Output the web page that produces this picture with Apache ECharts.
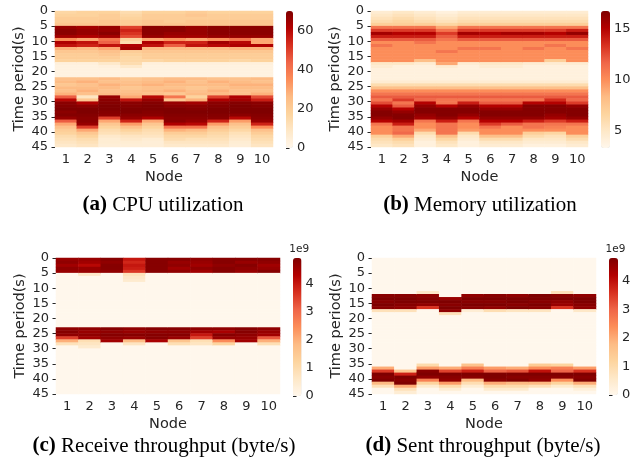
<!DOCTYPE html>
<html>
<head>
<meta charset="utf-8">
<script src="https://cdn.jsdelivr.net/npm/echarts@6/dist/echarts.min.js"></script>
<style>
  html, body { margin: 0; padding: 0; background: #fff; }
  #chart { width: 644px; height: 465px; }
</style>
</head>
<body>
<div id="chart"></div>
<script>
// nodes on x, one row per second (0..44) on y
var nodes = ['1', '2', '3', '4', '5', '6', '7', '8', '9', '10'];
var rows = [];
for (var r = 0; r < 45; r++) rows.push(String(r));

// (a) CPU utilization, one array per node, t = 0..44
var cpu = [
  [16,18,20,20,22, 66,68,68,64, 35, 62,58, 28, 22,20,20,18, 4,3,3,3,3, 24,26,22,26,24,28, 45,60, 68,69,70,68,69,66, 45,30,24,20,18,14,12,10,8],
  [18,18,20,20,22, 64,66,66,62, 30, 58,55, 26, 22,20,20,18, 4,3,3,3,3, 24,28,24,26,28,24, 10,22, 62,68,70,70,69,68,68,66, 50,30,22,18,14,12,10],
  [18,20,20,22,22, 66,66,68,64, 40, 44,58, 30, 24,22,20,18, 8,4,3,3,3, 26,24,28,26,24,26, 66,68, 69,70,70,69,68,50, 30,22,18,14,12,8,6,6,5],
  [14,16,18,20,20, 50,55,52,48, 18, 14,62, 64, 20,18,16,16, 14,8,3,3,3, 22,24,26,22,24,26, 30,58, 68,69,70,70,68,66, 55,32,24,18,14,10,8,6,5],
  [18,20,20,22,22, 68,68,68,66, 30, 62,58, 26, 22,20,20,16, 4,3,3,3,3, 24,26,28,24,26,24, 60,66, 69,70,70,69,68,62, 30,22,18,14,12,10,6,5,5],
  [18,20,20,20,22, 68,68,66,64, 34, 55,45, 26, 22,20,20,18, 4,3,3,3,3, 26,28,26,24,28,22, 40,22, 66,68,70,70,69,68,68,62, 40,28,20,16,14,10,8],
  [20,22,20,22,22, 66,66,66,64, 30, 55,58, 26, 22,20,20,18, 4,3,3,3,3, 26,24,26,22,24,26, 18,28, 64,68,69,70,69,68,66,60, 40,26,20,16,12,10,8],
  [18,20,20,22,22, 68,68,68,66, 34, 64,60, 26, 22,20,20,18, 4,3,3,3,3, 24,28,26,24,28,26, 50,62, 68,69,70,70,69,68,55, 32,24,20,16,14,12,10,8],
  [18,20,20,22,22, 68,68,68,66, 40, 60,62, 28, 22,20,20,16, 4,3,3,3,3, 24,26,28,26,24,24, 62,64, 69,70,70,70,68,60, 32,24,20,16,12,10,8,6,5],
  [18,20,20,22,22, 68,68,68,66, 30, 30,62, 28, 22,20,20,18, 4,3,3,3,3, 26,24,28,26,24,28, 48,56, 68,69,70,70,69,68,66,55, 35,24,20,16,14,12,10]
];

// (b) Memory utilization
var mem = [
  [4.5,5,5.5,6,7, 11,13,15.5,14,12, 10,11,10,10,10,10,10, 5,4.5,4,4,4,4,4.5, 6,8,10,11, 12,11,12.5, 15,16,16.5,16.5,16,15, 11,10,10,10, 7,6,5.5,5],
  [5,5.5,6,6.5,7, 11,13,15,14,12, 10,10,10,10,10,10,10, 5,4,4,4,4,4,4.5, 6,8,10,11, 12,13,11, 12,15,16,16.5,16.5,15.5, 14,11,11,11.5, 9,7,6,5.5],
  [4.5,5,5.5,6,7, 11,13,15,14,12, 11,10,10,10,10,10,8, 4.5,4,4,4,4,4,4.5, 6,8,10,11, 12,11.5,15, 16,16.5,16.5,16,15.5, 11,10,10,9, 6,5,4.5,4,4],
  [4,4.5,5,5.5,6.5, 9,11,13,12,11, 10,10,10,11,10,10,10,9, 4.5,4,4,4,4,4.5, 6,8,10,11, 12,11,11, 15,16.5,16.5,16.5,16,14, 11,11,11,11, 8,6.5,5.5,5],
  [4.5,5,5.5,6,7, 11,13,15.5,14,12, 10,10,11,10,10,10,10, 4.5,4,4,4,4,4,4.5, 6,8,10,11, 12,11,14, 16,16.5,16.5,16,15, 11,10,10,9.5, 6,5,4.5,4,4],
  [4.5,5,5.5,6,7, 11,13,15,14,12, 10,10,11,10,10,10,10, 5,4.5,4,4,4,4,4.5, 6,8,10,11, 12,11,12, 15,16,16.5,16.5,16,15,13, 11,10,10, 8,6,5,4.5],
  [4.5,5,5.5,6,7, 11,13,15.5,14,12, 10,10,10,10,10,10,10, 5,4.5,4,4,4,4,4.5, 6,8,10,11, 12,11,12, 15,16,16.5,16.5,16,15,12, 10,10,10, 8,6,5,4.5],
  [4.5,5,5.5,6,7, 11,13,15.5,14,12, 10,10,11,10,10,10,10, 4.5,4,4,4,4,4,4.5, 6,8,10,11, 12,11,15, 16.5,16.5,16.5,16.5,16,14, 11,11,10, 7,6,5,4.5,4],
  [4.5,5,5.5,6,7, 11,13,15,14,12, 10,11,10,10,10,10,7, 4.5,4,4,4,4,4,4.5, 6,8,10,11, 12,13.5,15, 16.5,16.5,16.5,16,15.5,13, 11,10.5,10, 6.5,5.5,5,4.5,4],
  [4.5,5,5.5,6,7, 11,14,16,14,12, 10,10,11,10,10,10,10, 4.5,4,4,4,4,4,4.5, 6,8,10,11, 12,11.5,13, 16,16.5,16.5,16.5,16,14, 11,10,10,10, 7,6,5,4.5]
];

// (c) Receive throughput, in units of 1e9 byte/s
var recv = [
  [4.6,4.7,4.5,4.7,4.6, 0,0,0,0,0,0,0,0,0,0,0,0,0,0,0,0,0,0, 4.7,4.8,4.7, 3.5,2.0,0.8, 0,0,0,0,0,0,0,0,0,0,0,0,0,0,0,0],
  [4.6,4.5,4.2,4.6,4.6, 0.6, 0,0,0,0,0,0,0,0,0,0,0,0,0,0,0,0,0, 4.7,4.6,4.7,4.5, 0.9,0.7,0.5, 0,0,0,0,0,0,0,0,0,0,0,0,0,0,0],
  [4.8,4.7,4.8,4.8,4.7, 0,0,0,0,0,0,0,0,0,0,0,0,0,0,0,0,0,0, 4.8,4.7,4.8,4.7,4.5, 0,0,0,0,0,0,0,0,0,0,0,0,0,0,0,0,0],
  [4.0,3.8,4.0,3.9,3.6, 0.8,0.6,0.5, 0,0,0,0,0,0,0,0,0,0,0,0,0,0,0, 4.7,4.6,4.8,4.6, 1.8,0.7, 0,0,0,0,0,0,0,0,0,0,0,0,0,0,0,0],
  [4.8,4.8,4.8,4.8,4.8, 0,0,0,0,0,0,0,0,0,0,0,0,0,0,0,0,0,0, 4.8,4.7,4.8,4.8,4.4, 0,0,0,0,0,0,0,0,0,0,0,0,0,0,0,0,0],
  [4.8,4.6,4.7,4.5,4.7, 0,0,0,0,0,0,0,0,0,0,0,0,0,0,0,0,0,0, 4.8,4.7,4.8,4.6, 1.6,0.9, 0,0,0,0,0,0,0,0,0,0,0,0,0,0,0,0],
  [4.7,4.6,4.5,4.7,4.5, 0,0,0,0,0,0,0,0,0,0,0,0,0,0,0,0,0,0, 4.7,4.5,4.0, 3.5,0.9,0.7, 0,0,0,0,0,0,0,0,0,0,0,0,0,0,0,0],
  [4.8,4.8,4.7,4.8,4.8, 0,0,0,0,0,0,0,0,0,0,0,0,0,0,0,0,0,0, 4.7,4.4,4.8,4.6, 2.5,1.2, 0,0,0,0,0,0,0,0,0,0,0,0,0,0,0,0],
  [4.8,4.6,4.8,4.7,4.6, 0,0,0,0,0,0,0,0,0,0,0,0,0,0,0,0,0,0, 4.8,4.8,4.7,4.6,4.5, 0,0,0,0,0,0,0,0,0,0,0,0,0,0,0,0,0],
  [4.8,4.7,4.5,4.6,4.8, 0,0,0,0,0,0,0,0,0,0,0,0,0,0,0,0,0,0, 4.7,4.6,4.5, 3.2,2.0,0.9, 0,0,0,0,0,0,0,0,0,0,0,0,0,0,0,0]
];

// (d) Sent throughput, in units of 1e9 byte/s
var sent = [
  [0,0,0,0,0,0,0,0,0,0,0,0, 4.7,4.8,4.7,4.8,4.7, 0.8, 0,0,0,0,0,0,0,0,0,0,0,0,0,0,0,0,0,0, 2.0,3.5, 4.8,4.7,4.8, 1.8,0.8, 0,0],
  [0,0,0,0,0,0,0,0,0,0,0,0, 4.7,4.8,4.8,4.7,4.6, 0.8, 0,0,0,0,0,0,0,0,0,0,0,0,0,0,0,0,0,0,0, 1.5,3.8, 4.8,4.7,4.8, 2.0,0.8,0.4],
  [0,0,0,0,0,0,0,0,0,0,0, 0.6, 4.6,4.7,4.8,4.6, 3.6, 0,0,0,0,0,0,0,0,0,0,0,0,0,0,0,0,0,0, 1.0,2.2, 4.7,4.8,4.6, 2.6,1.2,0.5, 0,0],
  [0,0,0,0,0,0,0,0,0,0,0,0,0, 4.5,4.8,4.7,4.8,4.6, 0.8, 0,0,0,0,0,0,0,0,0,0,0,0,0,0,0,0,0, 2.0,3.4, 4.8,4.7,4.6, 2.2,1.0,0.4, 0],
  [0,0,0,0,0,0,0,0,0,0,0,0, 4.6,4.8,4.7,4.8,4.7, 0.4, 0,0,0,0,0,0,0,0,0,0,0,0,0,0,0,0,0, 1.6,2.6,3.8, 4.8,4.7, 1.8,0.9,0.4, 0,0],
  [0,0,0,0,0,0,0,0,0,0,0,0, 4.7,4.8,4.7,4.8,4.6, 0.9, 0,0,0,0,0,0,0,0,0,0,0,0,0,0,0,0,0,0, 2.2,3.0, 4.8,4.8,4.7, 2.0,1.0,0.5, 0],
  [0,0,0,0,0,0,0,0,0,0,0,0, 4.6,4.8,4.8,4.7,4.8, 0.7, 0,0,0,0,0,0,0,0,0,0,0,0,0,0,0,0,0,0, 2.0,3.2, 4.8,4.7,4.8, 1.8,1.0,0.5, 0],
  [0,0,0,0,0,0,0,0,0,0,0,0, 4.8,4.8,4.7,4.8,4.7, 0.7, 0,0,0,0,0,0,0,0,0,0,0,0,0,0,0,0,0, 1.4,2.4,4.0, 4.8,4.7,4.6, 1.8,0.8, 0,0],
  [0,0,0,0,0,0,0,0,0,0,0, 0.8, 4.7,4.8,4.6,4.5, 3.6, 0,0,0,0,0,0,0,0,0,0,0,0,0,0,0,0,0,0, 1.2,2.6,3.0, 4.8,4.7, 2.4,1.2,0.5, 0,0],
  [0,0,0,0,0,0,0,0,0,0,0,0, 4.6,4.8,4.8,4.7,4.6, 0.6, 0,0,0,0,0,0,0,0,0,0,0,0,0,0,0,0,0,0, 2.2,3.6, 4.8,4.7,4.8, 2.0,0.8,0.3, 0]
];

// colour bar ranges and tick labels
var cpuRange = [0, 70], cpuTicks = [0, 20, 40, 60];
var memRange = [3.3, 16.7], memTicks = [5, 10, 15];
var recvRange = [0, 4.9], recvTicks = [0, 1, 2, 3, 4];
var sentRange = [0, 4.8], sentTicks = [0, 1, 2, 3, 4];
var captions = [
  ['(a)', ' CPU utilization'],
  ['(b)', ' Memory utilization'],
  ['(c)', ' Receive throughput (byte/s)'],
  ['(d)', ' Sent throughput (byte/s)']
];

var OrRd = ['#fff7ec', '#fee8c8', '#fdd49e', '#fdbb84', '#fc8d59', '#ef6548', '#d7301f', '#b30000', '#7f0000'];
var SANS = 'DejaVu Sans';
var TXT = '#262626';
var TICK_FS = 13, NAME_FS = 14.5;

// layout of each panel: heatmap box and colour bar box
var panels = [
  { data: cpu,  range: cpuRange,  ticks: cpuTicks,  grid: [55, 11, 218, 136],  bar: [286, 11, 7, 137],   cap: [163, 205], sci: false },
  { data: mem,  range: memRange,  ticks: memTicks,  grid: [371, 11, 217, 136], bar: [601, 11, 9, 137],   cap: [480, 205], sci: false },
  { data: recv, range: recvRange, ticks: recvTicks, grid: [56, 258, 224, 136], bar: [293, 258, 8.5, 138], cap: [164, 446], sci: true },
  { data: sent, range: sentRange, ticks: sentTicks, grid: [372, 258, 224, 136], bar: [609, 258, 9, 137], cap: [483, 446], sci: true }
];

var grid = [], xAxis = [], yAxis = [], series = [], visualMap = [], graphic = [];

panels.forEach(function (p, k) {
  grid.push({ left: p.grid[0], top: p.grid[1], width: p.grid[2], height: p.grid[3] });
  xAxis.push({
    type: 'category', gridIndex: k, data: nodes,
    name: 'Node', nameLocation: 'middle', nameGap: 23,
    nameTextStyle: { fontFamily: SANS, fontSize: NAME_FS, color: TXT },
    axisLine: { show: false },
    axisTick: { alignWithLabel: true, length: 3.5, lineStyle: { color: TXT } },
    axisLabel: { fontFamily: SANS, fontSize: TICK_FS, color: TXT, margin: 6 },
    splitLine: { show: false }
  });
  // hidden category axis that places the cells
  yAxis.push({
    type: 'category', gridIndex: k, data: rows, inverse: true,
    position: 'right', show: false
  });
  // visible time axis 0..45
  yAxis.push({
    type: 'value', gridIndex: k, min: 0, max: 45, interval: 5, inverse: true,
    position: 'left',
    name: 'Time period(s)', nameLocation: 'middle', nameGap: 28,
    nameTextStyle: { fontFamily: SANS, fontSize: NAME_FS, color: TXT },
    axisLine: { show: false },
    axisTick: { show: true, length: 3.5, lineStyle: { color: TXT } },
    axisLabel: { fontFamily: SANS, fontSize: TICK_FS, color: TXT, margin: 7 },
    splitLine: { show: false }
  });

  var cells = [];
  p.data.forEach(function (col, x) {
    col.forEach(function (v, y) { cells.push([x, y, v]); });
  });
  series.push({
    type: 'heatmap', xAxisIndex: k, yAxisIndex: 2 * k, data: cells,
    itemStyle: { borderWidth: 0 }, progressive: 0, emphasis: { disabled: true }
  });

  visualMap.push({
    type: 'continuous', seriesIndex: k, min: p.range[0], max: p.range[1],
    inRange: { color: OrRd }, orient: 'vertical', calculable: false,
    left: p.bar[0], top: p.bar[1], itemWidth: p.bar[2], itemHeight: p.bar[3],
    padding: 0, hoverLink: false, text: null, showLabel: false
  });
});

// colour bar tick axes
panels.forEach(function (p, k) {
  var g = 4 + k;
  grid.push({ left: p.bar[0], top: p.bar[1], width: p.bar[2], height: p.bar[3] });
  xAxis.push({ type: 'value', gridIndex: g, show: false, min: 0, max: 1 });
  yAxis.push({
    type: 'value', gridIndex: g, position: 'right', min: p.range[0], max: p.range[1],
    axisLine: { show: false },
    axisTick: { show: true, length: 3.5, lineStyle: { color: TXT }, customValues: p.ticks },
    axisLabel: { fontFamily: SANS, fontSize: TICK_FS, color: TXT, margin: 4, customValues: p.ticks },
    splitLine: { show: false }
  });
  series.push({ type: 'scatter', xAxisIndex: 4 + k, yAxisIndex: 8 + k, data: [], silent: true });

  if (p.sci) {
    graphic.push({
      type: 'text', x: p.bar[0] + p.bar[2] / 2 + 2, y: p.bar[1] - 3,
      style: { text: '1e9', fontFamily: SANS, fontSize: 10.5, fill: TXT, align: 'center', verticalAlign: 'bottom' }
    });
  }
  graphic.push({
    type: 'text', x: p.cap[0], y: p.cap[1],
    style: {
      text: '{b|' + captions[k][0] + '}{n|' + captions[k][1] + '}',
      align: 'center', verticalAlign: 'middle',
      rich: {
        b: { fontFamily: 'Liberation Serif', fontSize: 21, fontWeight: 'bold', fill: '#000' },
        n: { fontFamily: 'Liberation Serif', fontSize: 21, fill: '#000' }
      }
    }
  });
});

var chart = echarts.init(document.getElementById('chart'), null, { renderer: 'canvas' });
chart.setOption({
  animation: false,
  backgroundColor: '#fff',
  grid: grid,
  xAxis: xAxis,
  yAxis: yAxis,
  visualMap: visualMap,
  series: series,
  graphic: graphic
});
</script>
</body>
</html>
